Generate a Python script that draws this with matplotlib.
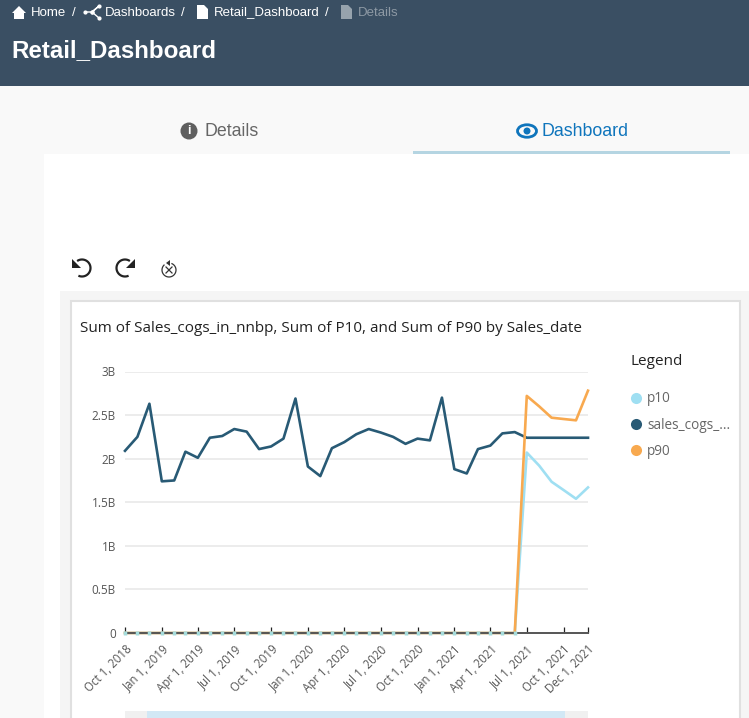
import matplotlib
matplotlib.use('Agg')
import matplotlib.pyplot as plt
import matplotlib.dates as mdates
from matplotlib.lines import Line2D
from matplotlib.patches import Rectangle, Polygon, Circle, Ellipse
import numpy as np
import pandas as pd

W, H = 749, 718

# chart data, in billions
dates = pd.date_range('2018-10-01', '2021-12-01', freq='MS')
sales = [2.09, 2.25, 2.63, 1.74, 1.75, 2.08, 2.01, 2.24, 2.26, 2.34, 2.31, 2.11, 2.14,
         2.23, 2.69, 1.91, 1.80, 2.12, 2.19, 2.28, 2.34, 2.30, 2.25, 2.17, 2.23, 2.21,
         2.70, 1.88, 1.83, 2.11, 2.15, 2.29, 2.305, 2.24, 2.24, 2.24, 2.24, 2.24, 2.24]
p10 = [0] * 33 + [2.07, 1.92, 1.735, 1.64, 1.54, 1.67]
p90 = [0] * 33 + [2.72, 2.60, 2.47, 2.455, 2.44, 2.78]
y_ticks = [0, 0.5, 1, 1.5, 2, 2.5, 3]
y_labels = ['0', '0.5B', '1B', '1.5B', '2B', '2.5B', '3B']
x_ticks = ['2018-10-01', '2019-01-01', '2019-04-01', '2019-07-01', '2019-10-01', '2020-01-01',
           '2020-04-01', '2020-07-01', '2020-10-01', '2021-01-01', '2021-04-01', '2021-07-01',
           '2021-10-01', '2021-12-01']
x_labels = ['Oct 1, 2018', 'Jan 1, 2019', 'Apr 1, 2019', 'Jul 1, 2019', 'Oct 1, 2019', 'Jan 1, 2020',
            'Apr 1, 2020', 'Jul 1, 2020', 'Oct 1, 2020', 'Jan 1, 2021', 'Apr 1, 2021', 'Jul 1, 2021',
            'Oct 1, 2021', 'Dec 1, 2021']

C_P10 = '#9fdff2'
C_SALES = '#285a75'
C_P90 = '#f8a94f'
CHART_FONT = 'Open Sans'
PAGE_FONT = 'Liberation Sans'

fig = plt.figure(figsize=(W / 100, H / 100), dpi=100, facecolor='#f9f9f9')

# page furniture, pixel coordinates with origin top left
page = fig.add_axes([0, 0, 1, 1])
page.set_xlim(0, W)
page.set_ylim(H, 0)
page.axis('off')

def box(x0, y0, x1, y1, **kw):
    page.add_patch(Rectangle((x0, y0), x1 - x0, y1 - y0, **kw))

def file_icon(x, y, color):
    page.add_patch(Polygon([(x, y), (x + 7, y), (x + 11, y + 4), (x + 11, y + 14), (x, y + 14)], color=color, lw=0))

def arc(cx, cy, r, start, end, color, lw):
    t = np.radians(np.linspace(start, end, 40))
    page.plot(cx + r * np.cos(t), cy + r * np.sin(t), color=color, lw=lw, solid_capstyle='butt')

box(0, 0, W, 86, color='#3a4f63', lw=0)
box(44, 154, W, H, color='white', lw=0)
box(413, 151, 730, 154, color='#b5d5e2', lw=0)
box(60, 291, W, H, color='#f5f5f5', lw=0)
box(71, 301, 740, H + 5, facecolor='white', edgecolor='#e0e0e0', lw=1.5)
box(125, 711, 588, H, color='#f0f0f0', lw=0)
box(147, 711, 565, H, color='#d2e8f5', lw=0)

# breadcrumb
page.add_patch(Polygon([(12, 13), (19, 6), (26, 13), (24, 13), (24, 19), (14, 19), (14, 13)], color='white', lw=0))
page.plot([85, 92, 99, 92, 99], [12, 12, 6, 12, 18], color='white', lw=1, marker='o', ms=2)
file_icon(197, 5, 'white')
file_icon(341, 5, '#97a3ad')
for x, s, c in [(31, 'Home', 'white'), (72, '/', 'white'), (105, 'Dashboards', 'white'), (181, '/', 'white'),
                (214, 'Retail_Dashboard', 'white'), (325, '/', 'white'), (358, 'Details', '#8d99a4')]:
    page.text(x, 12.5, s, color=c, fontsize=9.5, family=PAGE_FONT, va='center')
page.text(11, 50.5, 'Retail_Dashboard', color='white', fontsize=17.4, fontweight='bold', family=PAGE_FONT, va='center')

# tabs
page.add_patch(Circle((189, 131), 8.5, color='#5f5f5f', lw=0))
page.text(189, 131, 'i', color='white', fontsize=9, fontweight='bold', family=PAGE_FONT, ha='center', va='center')
page.text(205, 131, 'Details', color='#666666', fontsize=12.8, family=PAGE_FONT, va='center')
page.add_patch(Ellipse((527, 131), 19, 12.5, facecolor='none', edgecolor='#0f75bc', lw=2))
page.add_patch(Circle((527, 131), 3.5, color='#0f75bc', lw=0))
page.text(541.5, 131, 'Dashboard', color='#0f75bc', fontsize=12.8, family=PAGE_FONT, va='center')

# undo, redo, reset
arc(82, 268, 8.5, -125, 115, '#222222', 1.6)
page.add_patch(Polygon([(72, 259), (72, 268), (81, 268)], color='#222222', lw=0))
arc(125, 268, 8.5, -55, -295, '#222222', 1.6)
page.add_patch(Polygon([(135, 259), (135, 268), (126, 268)], color='#222222', lw=0))
arc(169, 270, 7, -70, 230, '#333333', 0.9)
page.add_patch(Polygon([(170, 260), (170, 266), (166, 263)], color='#333333', lw=0))
page.plot([166, 172], [267, 273], color='#333333', lw=0.9)
page.plot([172, 166], [267, 273], color='#333333', lw=0.9)

page.text(80, 328, 'Sum of Sales_cogs_in_nnbp, Sum of P10, and Sum of P90 by Sales_date',
          color='#222222', fontsize=10.95, family=CHART_FONT, va='center')

# chart
ax = fig.add_axes([125 / W, 1 - 633 / H, (588 - 125) / W, (633 - 371.5) / H])
ax.patch.set_alpha(0)
ax.plot(dates, p10, color=C_P10, lw=1.9, zorder=2, clip_on=False)
ax.plot(dates, sales, color=C_SALES, lw=1.9, zorder=2.2, clip_on=False)
ax.plot(dates, p90, color=C_P90, lw=1.9, zorder=2.4, clip_on=False)
# small point marks along the zero run
ax.plot(dates[:33], p10[:33], ls='none', marker='|', ms=3, mew=2.5, color='#a5dcdc', zorder=3, clip_on=False)

ax.set_xlim(dates[0], dates[-1])
ax.set_ylim(0, 3)
ax.set_yticks(y_ticks, y_labels, fontsize=8.5, color='#555555', family=CHART_FONT)
ax.set_xticks(mdates.date2num(pd.to_datetime(x_ticks)))
ax.set_xticklabels(x_labels, rotation=45, ha='right', rotation_mode='anchor', fontsize=8.3,
                   color='#555555', family=CHART_FONT)
ax.tick_params(axis='y', length=0, pad=6.5)
ax.tick_params(axis='x', direction='in', length=4.5, width=0.9, color='#222222', pad=7)
ax.grid(axis='y', color='#ebebeb', lw=1.3)
ax.set_axisbelow(True)
for name in ['top', 'left', 'right']:
    ax.spines[name].set_visible(False)
ax.spines['bottom'].set_color('#555555')
ax.spines['bottom'].set_linewidth(1.4)

# legend
handles = [Line2D([], [], ls='none', marker='o', ms=8, mew=0, color=c) for c in [C_P10, C_SALES, C_P90]]
leg = fig.legend(handles, ['p10', 'sales_cogs_...', 'p90'], title='Legend', loc='upper left',
                 bbox_to_anchor=(618 / W, 1 - 342 / H), frameon=False, alignment='left', handlelength=0.8,
                 handletextpad=0.45, labelspacing=0.82, prop={'family': CHART_FONT, 'size': 9.8},
                 title_fontproperties={'family': CHART_FONT, 'size': 11})
leg.get_title().set_color('#222222')
leg._legend_box.sep = 16
for t in leg.get_texts():
    t.set_color('#666666')

fig.savefig('out.png', dpi=100, facecolor=fig.get_facecolor())
